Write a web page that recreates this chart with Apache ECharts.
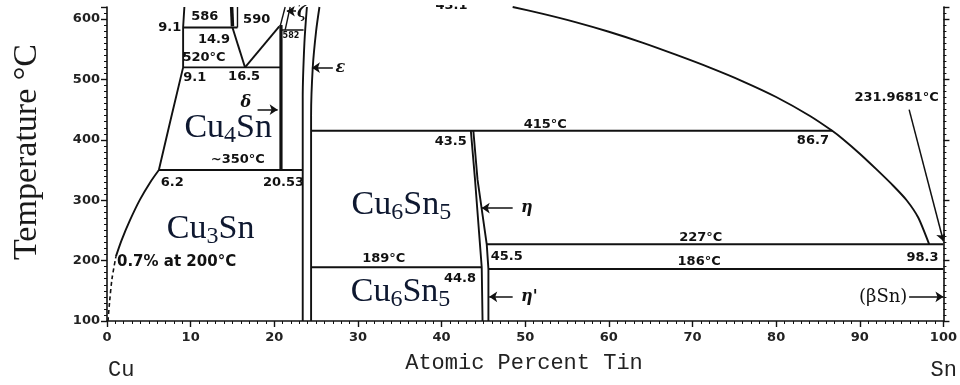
<!DOCTYPE html>
<html><head><meta charset="utf-8">
<script src="https://cdn.jsdelivr.net/npm/echarts@6/dist/echarts.min.js"></script>
<style>html,body{margin:0;padding:0;background:#fff}#c{width:960px;height:385px}</style>
</head><body><div id="c"></div>
<script>
// ---- axis tick labels ----
const xTickLabels = ['0','10','20','30','40','50','60','70','80','90','100'];
const yTickLabels = ['100','200','300','400','500','600'];

// ---- phase boundaries: [atomic % Sn, temperature °C] ----
const cuSolvusDashed = [[0.12,100],[0.3,130],[0.6,170],[1.07,207]];
const cuSolvusLow = [[1.07,207],[1.75,234],[2.75,267],[3.94,301],[5.14,329],[6.2,350]];
const cuSolvusHigh = [[6.2,350],[7.6,433],[9.1,520],[9.1,586],[9.25,620]];
const iso586 = [[9.1,586],[15.6,586]];
const iso520 = [[9.1,520],[20.8,520]];
const gammaLeft = [[15.0,586],[16.5,520]];
const gammaRight = [[16.5,520],[20.6,588]];
const betaWedge = [[14.9,620],[15.0,588]];
const betaRight = [[15.6,620],[15.6,586]];
const deltaPhase = [[20.8,590],[20.8,350]];
const zetaA = [[20.7,588],[21.3,620]];
const zetaB = [[21.3,582],[21.9,620]];
const iso582 = [[20.8,582],[23.5,582]];
const epsLeft = [[23.4,100],[23.4,470],[23.6,560],[23.9,620]];
const epsRight = [[24.4,100],[24.4,440],[24.6,520],[25.0,580],[25.4,620]];
const iso350 = [[6.2,350],[23.4,350]];
const iso415 = [[24.4,415],[86.7,415]];
const liquidus = [[48.5,620],[52,609],[56,595],[60,579],[64,561],[68,541],[72,520],[76,497],[80,471],[84,440],[86.7,415],[88,401],[90,377],[92,351],[94,324],[95.6,300],[97,271],[98.3,227]];
const iso227 = [[45.4,227],[100,227]];
const iso189 = [[24.4,189],[44.8,189]];
const iso186 = [[45.6,186],[100,186]];
const etaLeft = [[43.5,415],[44.0,334],[44.8,189],[44.9,100]];
const etaRight = [[43.8,415],[44.3,334],[45.4,227],[45.6,186],[45.6,100]];

// ---- pointer arrows (tail -> tip) ----
const arrowTails = [[27.0,519.6],[18.0,450],[22.6,613],[48.5,287],[48.5,140],[95.9,140],[95.9,450]];
const arrowTips  = [[24.5,519.6],[20.4,450],[21.5,613],[44.8,287],[45.7,140],[100,140],[100,232]];

// ---- numeric annotations ----
const annText = ['9.1','586','14.9','520°C','9.1','16.5','590','~350°C','6.2','20.53','43.1','415°C','43.5','86.7','231.9681°C','227°C','186°C','98.3','45.5','189°C','44.8'];
const annAnchor = [[7.5,586],[11.7,604],[12.8,566],[11.6,536],[10.5,503],[16.4,504.6],[17.9,599],[15.65,367],[7.8,329],[21.1,329],[41.2,622],[52.4,425],[41.1,396.8],[84.4,398.5],[94.4,469.8],[71.0,237.6],[70.8,197.8],[97.5,204.5],[47.8,206],[33.1,202.8],[42.2,169.7]];
const noteText = ['0.7% at 200°C'];
const noteAnchor = [[1.2,197.8]];
const smallText = ['582'];
const smallAnchor = [[22.0,572.6]];

// ---- phase symbols ----
const greekText = ['ε','δ','ζ','η',"η'",'(βSn)'];
const greekAnchor = [[27.9,519.6],[16.6,461.5],[23.3,611],[50.2,287.4],[50.5,139.8],[92.8,139.8]];

// ---- compound labels ----
const phaseMain = [['Cu','4','Sn',''],['Cu','3','Sn',''],['Cu','6','Sn','5'],['Cu','6','Sn','5']];
const phaseAnchor = [[14.5,420],[12.4,252.6],[35.2,292],[35.1,148]];

const INK = '#111';
function boundary(data, extra) {
  return Object.assign({
    type: 'line', data: data, symbol: 'none', showSymbol: false, silent: true,
    animation: false, z: 3, clip: true,
    lineStyle: { color: INK, width: 1.9 }
  }, extra || {});
}
const boundaries = [
  boundary(cuSolvusDashed, { lineStyle: { color: INK, width: 1.6, type: [4, 3] }, smooth: 0.3 }),
  boundary(cuSolvusLow, { smooth: 0.3 }),
  boundary(cuSolvusHigh),
  boundary(iso586), boundary(iso520), boundary(gammaLeft), boundary(gammaRight),
  boundary(betaWedge, { lineStyle: { color: INK, width: 3.5 } }),
  boundary(betaRight, { lineStyle: { color: INK, width: 1.4 } }),
  boundary(deltaPhase, { lineStyle: { color: INK, width: 3.2 } }),
  boundary(zetaA, { lineStyle: { color: INK, width: 1.4 } }),
  boundary(zetaB, { lineStyle: { color: INK, width: 1.4 } }),
  boundary(iso582, { lineStyle: { color: INK, width: 1.4 } }),
  boundary(epsLeft, { smooth: 0.3 }),
  boundary(epsRight, { smooth: 0.3 }),
  boundary(iso350), boundary(iso415),
  boundary(liquidus, { smooth: 0.2 }),
  boundary(iso227), boundary(iso189), boundary(iso186),
  boundary(etaLeft), boundary(etaRight)
];

function textSeries(texts, anchors, labelStyle) {
  return {
    type: 'scatter', symbolSize: 0.1, silent: true, animation: false, clip: false, z: 5,
    itemStyle: { color: 'transparent', opacity: 1 },
    data: texts.map((t, i) => ({ name: t, value: anchors[i] })),
    label: Object.assign({ show: true, position: [0, 0], align: 'center', verticalAlign: 'middle', formatter: '{b}', color: INK, opacity: 1, textBorderWidth: 0 }, labelStyle)
  };
}

const phaseColor = '#0e1830';
const formulaSeries = {
  type: 'scatter', symbolSize: 0.1, silent: true, animation: false, clip: false, z: 5,
  itemStyle: { color: 'transparent', opacity: 1 },
  data: phaseMain.map((p, i) => ({ name: '{m|' + p[0] + '}{s|' + p[1] + '}{m|' + p[2] + '}' + (p[3] ? '{s|' + p[3] + '}' : ''), value: phaseAnchor[i] })),
  label: {
    show: true, position: [0, 0], align: 'center', verticalAlign: 'middle', formatter: '{b}', opacity: 1, textBorderWidth: 0,
    rich: {
      m: { fontFamily: 'Liberation Serif', fontSize: 34, color: phaseColor, lineHeight: 40 },
      s: { fontFamily: 'Liberation Serif', fontSize: 24, color: phaseColor, lineHeight: 22, verticalAlign: 'bottom' }
    }
  }
};

const numFont = { fontFamily: 'DejaVu Sans', fontWeight: 'bold', fontSize: 13 };

const option = {
  backgroundColor: '#fff',
  animation: false,
  grid: { left: 107, right: 15, top: 7, bottom: 64 },
  xAxis: {
    type: 'value', min: 0, max: 100, interval: 10,
    axisLine: { show: true, lineStyle: { color: INK, width: 1.6 } },
    axisTick: { show: true, length: 6, lineStyle: { color: INK, width: 1.4 } },
    minorTick: { show: true, splitNumber: 10, length: 3, lineStyle: { color: INK, width: 1 } },
    splitLine: { show: false },
    axisLabel: { margin: 10, color: '#222', fontFamily: 'DejaVu Sans', fontWeight: 'bold', fontSize: 13,
      formatter: v => xTickLabels.includes(String(v)) ? String(v) : '' }
  },
  yAxis: [{
    type: 'value', min: 100, max: 620, interval: 100, position: 'left',
    axisLine: { show: true, lineStyle: { color: INK, width: 1.6 } },
    axisTick: { show: true, length: 6, lineStyle: { color: INK, width: 1.4 } },
    minorTick: { show: true, splitNumber: 10, length: 3, lineStyle: { color: INK, width: 1 } },
    splitLine: { show: false },
    axisLabel: { margin: 7, color: '#222', fontFamily: 'DejaVu Sans', fontWeight: 'bold', fontSize: 13,
      formatter: v => yTickLabels.includes(String(v)) ? String(v) : '' }
  }, {
    type: 'value', min: 100, max: 620, interval: 100, position: 'right',
    axisLine: { show: true, lineStyle: { color: INK, width: 1.6 } },
    axisTick: { show: true, length: 6, lineStyle: { color: INK, width: 1.4 } },
    minorTick: { show: true, splitNumber: 10, length: 3, lineStyle: { color: INK, width: 1 } },
    splitLine: { show: false },
    axisLabel: { show: false }
  }],
  series: boundaries.concat([
    {
      type: 'lines', coordinateSystem: 'cartesian2d', silent: true, animation: false, z: 4,
      symbol: ['none', 'arrow'], symbolSize: 8,
      lineStyle: { color: INK, width: 1.5, opacity: 1 },
      data: arrowTails.map((t, i) => ({ coords: [t, arrowTips[i]] }))
    },
    textSeries(annText, annAnchor, numFont),
    textSeries(noteText, noteAnchor, { fontFamily: 'DejaVu Sans', fontWeight: 'bold', fontSize: 15, align: 'left' }),
    textSeries(smallText, smallAnchor, { fontFamily: 'DejaVu Sans', fontWeight: 'bold', fontSize: 8 }),
    textSeries(greekText.slice(0, 5), greekAnchor.slice(0, 5), { fontFamily: 'DejaVu Serif', fontStyle: 'italic', fontWeight: 'bold', fontSize: 16 }),
    textSeries(greekText.slice(5), greekAnchor.slice(5), { fontFamily: 'DejaVu Serif', fontSize: 18 }),
    formulaSeries
  ]),
  graphic: [
    { type: 'rect', z: 100, shape: { x: 0, y: 0, width: 960, height: 5 }, style: { fill: '#fff' } },
    { type: 'text', z: 100, x: 27, y: 152, rotation: Math.PI / 2,
      style: { text: 'Temperature °C', fontFamily: 'Liberation Serif', fontSize: 34, fill: '#1a1a1a', align: 'center', verticalAlign: 'middle' } },
    { type: 'text', z: 100, x: 524, y: 363,
      style: { text: 'Atomic Percent Tin', fontFamily: 'Liberation Mono', fontSize: 22, fill: '#222', align: 'center', verticalAlign: 'middle' } },
    { type: 'text', z: 100, x: 108, y: 370,
      style: { text: 'Cu', fontFamily: 'Liberation Mono', fontSize: 22, fill: '#222', align: 'left', verticalAlign: 'middle' } },
    { type: 'text', z: 100, x: 957, y: 370,
      style: { text: 'Sn', fontFamily: 'Liberation Mono', fontSize: 22, fill: '#222', align: 'right', verticalAlign: 'middle' } }
  ]
};
const chart = echarts.init(document.getElementById('c'), null, { renderer: 'canvas' });
chart.setOption(option);
</script>
</body></html>
